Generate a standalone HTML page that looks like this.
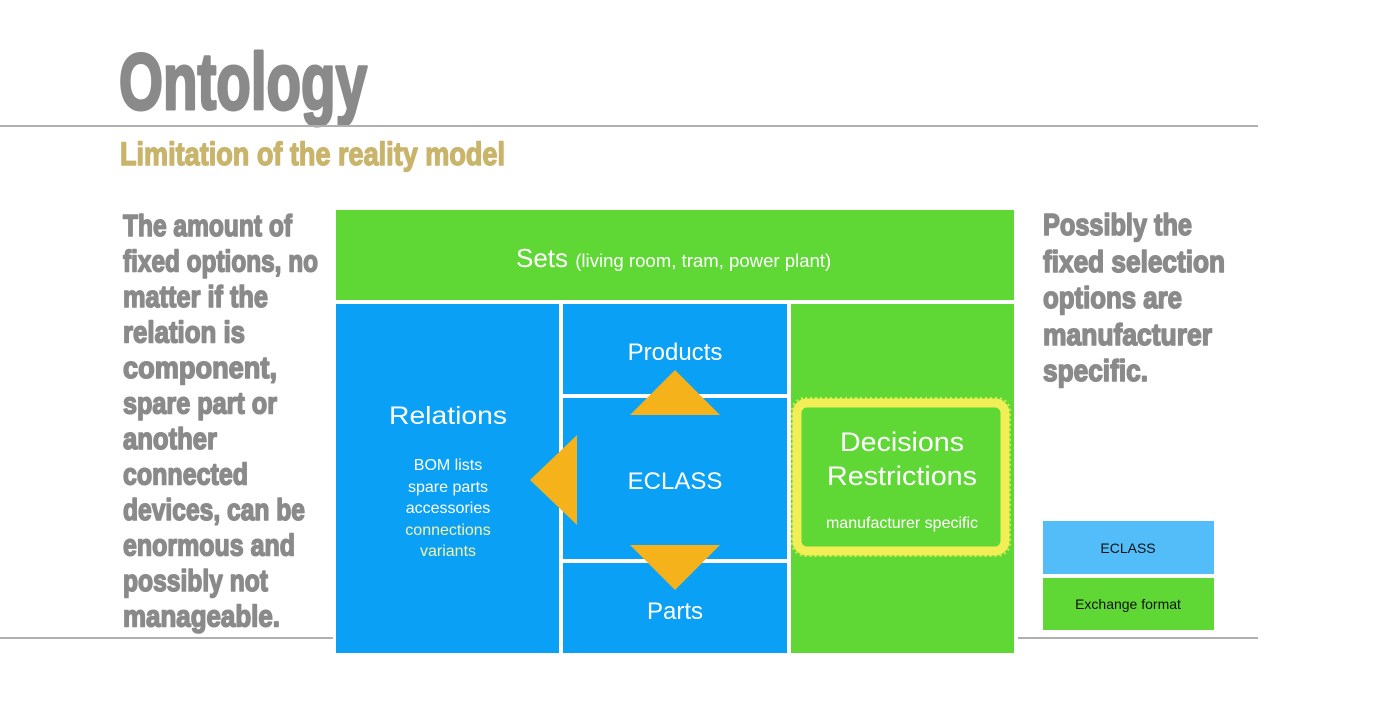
<!DOCTYPE html>
<html><head><meta charset="utf-8"><style>
html,body{margin:0;padding:0;background:#fff;width:1400px;height:708px;overflow:hidden}
svg{display:block}
.h{font-family:"Liberation Sans Narrow","Liberation Sans",sans-serif;font-weight:bold;fill:#8a8a8a;stroke:#8a8a8a;stroke-width:1.6;stroke-linejoin:round}
.w{font-family:"Liberation Sans",sans-serif;fill:#fff}
</style></head><body>
<svg width="1400" height="708" viewBox="0 0 1400 708" xmlns="http://www.w3.org/2000/svg">
<text class="h" x="119" y="109" font-size="80" style="stroke-width:3" textLength="248" lengthAdjust="spacingAndGlyphs">Ontology</text>
<rect x="0" y="125" width="1258" height="2" fill="#b0b0b0"/>
<text class="h" x="120" y="165" font-size="32" style="fill:#c9b46c;stroke:#c9b46c;stroke-width:1.4" textLength="385" lengthAdjust="spacingAndGlyphs">Limitation of the reality model</text>

<g class="h" font-size="31">
<text x="123" y="236" textLength="169" lengthAdjust="spacingAndGlyphs">The amount of</text>
<text x="123" y="271.5" textLength="195" lengthAdjust="spacingAndGlyphs">fixed options, no</text>
<text x="123" y="307" textLength="145" lengthAdjust="spacingAndGlyphs">matter if the</text>
<text x="123" y="342.5" textLength="122" lengthAdjust="spacingAndGlyphs">relation is</text>
<text x="123" y="378" textLength="154" lengthAdjust="spacingAndGlyphs">component,</text>
<text x="123" y="413.5" textLength="154" lengthAdjust="spacingAndGlyphs">spare part or</text>
<text x="123" y="449" textLength="94" lengthAdjust="spacingAndGlyphs">another</text>
<text x="123" y="484.5" textLength="125" lengthAdjust="spacingAndGlyphs">connected</text>
<text x="123" y="520" textLength="182" lengthAdjust="spacingAndGlyphs">devices, can be</text>
<text x="123" y="555.5" textLength="172" lengthAdjust="spacingAndGlyphs">enormous and</text>
<text x="123" y="591" textLength="145" lengthAdjust="spacingAndGlyphs">possibly not</text>
<text x="123" y="626.5" textLength="157" lengthAdjust="spacingAndGlyphs">manageable.</text>
</g>
<g class="h" font-size="31">
<text x="1043" y="235" textLength="149" lengthAdjust="spacingAndGlyphs">Possibly the</text>
<text x="1043" y="272" textLength="182" lengthAdjust="spacingAndGlyphs">fixed selection</text>
<text x="1043" y="308" textLength="139" lengthAdjust="spacingAndGlyphs">options are</text>
<text x="1043" y="345" textLength="169" lengthAdjust="spacingAndGlyphs">manufacturer</text>
<text x="1043" y="381" textLength="105" lengthAdjust="spacingAndGlyphs">specific.</text>
</g>

<rect x="0" y="637" width="333" height="2" fill="#b0b0b0"/>
<rect x="1018" y="637" width="240" height="2" fill="#b0b0b0"/>

<rect x="336" y="210" width="678" height="90" fill="#5fd836"/>
<rect x="336" y="304" width="223" height="349" fill="#0aa0f5"/>
<rect x="563" y="304" width="224" height="90" fill="#0aa0f5"/>
<rect x="563" y="398" width="224" height="161" fill="#0aa0f5"/>
<rect x="563" y="563" width="224" height="90" fill="#0aa0f5"/>
<rect x="791" y="304" width="223" height="349" fill="#5fd836"/>

<polygon points="675,370 720,415 630,415" fill="#f5b21a"/>
<polygon points="630,545 720,545 675,590" fill="#f5b21a"/>
<polygon points="530,480 577,435 577,525" fill="#f5b21a"/>

<rect x="797" y="403" width="208" height="148" rx="10" fill="none" stroke="#f2ee55" stroke-width="9"/>
<rect x="792" y="398" width="218" height="158" rx="13" fill="none" stroke="#f2ee55" stroke-width="2" stroke-dasharray="2 3" opacity="0.8"/>

<text class="w" x="516" y="267" font-size="26">Sets <tspan font-size="18" textLength="256" lengthAdjust="spacingAndGlyphs">(living room, tram, power plant)</tspan></text>
<g class="w" text-anchor="middle">
<text x="675" y="360" font-size="24">Products</text>
<text x="675" y="489" font-size="24">ECLASS</text>
<text x="675" y="619" font-size="24">Parts</text>
<text x="448" y="424" font-size="25" textLength="118" lengthAdjust="spacingAndGlyphs">Relations</text>
<text x="448" y="470" font-size="16">BOM lists</text>
<text x="448" y="492" font-size="16">spare parts</text>
<text x="448" y="513" font-size="16">accessories</text>
<text x="448" y="535" font-size="16" style="fill:#f3f3a8">connections</text>
<text x="448" y="556" font-size="16" style="fill:#f3f3a8">variants</text>
<text x="902" y="451" font-size="27" textLength="124" lengthAdjust="spacingAndGlyphs">Decisions</text>
<text x="902" y="485" font-size="27" textLength="150" lengthAdjust="spacingAndGlyphs">Restrictions</text>
<text x="902" y="528" font-size="16">manufacturer specific</text>
</g>

<rect x="1043" y="521" width="171" height="53" fill="#52bdf8"/>
<rect x="1043" y="578" width="171" height="52" fill="#5fd836"/>
<g font-family="Liberation Sans, sans-serif" font-size="14" fill="#111" text-anchor="middle">
<text x="1128" y="553">ECLASS</text>
<text x="1128" y="609">Exchange format</text>
</g>
</svg>
</body></html>
